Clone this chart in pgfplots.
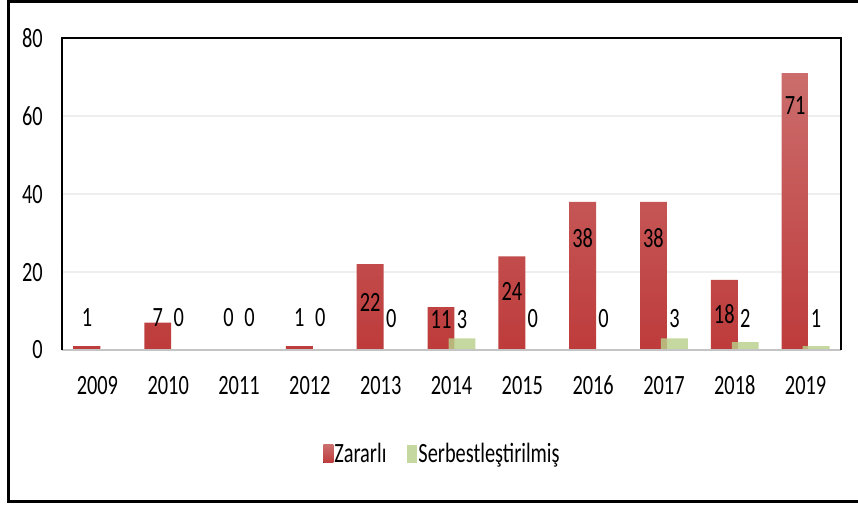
\documentclass[border=0pt]{standalone}
\usepackage{fontspec}
\setmainfont{Carlito}[FakeStretch=0.73]
\usepackage{pgfplots}
\pgfplotsset{compat=1.18}
\definecolor{redtop}{HTML}{CB6D6C}
\definecolor{redbot}{HTML}{BE3B3B}
\definecolor{greenbar}{HTML}{B8D08A}
\definecolor{gridc}{HTML}{EEEEEE}
\definecolor{baseline}{HTML}{C4C4C4}
\begin{document}
\begin{tikzpicture}[font=\fontsize{28}{32}\selectfont]
\useasboundingbox (0bp,0bp) rectangle (858bp,506bp);
\draw[line width=3bp] (860bp,504.5bp) -- (8bp,504.5bp) -- (8bp,4.5bp) -- (860bp,4.5bp);
\begin{axis}[
  at={(62bp,156bp)}, anchor=south west,
  scale only axis, width=779bp, height=312bp,
  xmin=-0.5, xmax=10.5, ymin=0, ymax=80,
  ytick={0,20,40,60,80},
  xtick={0,1,2,3,4,5,6,7,8,9,10},
  xticklabels={2009,2010,2011,2012,2013,2014,2015,2016,2017,2018,2019},
  major tick length=0pt,
  ymajorgrids,
  grid style={color=gridc, line width=2.5bp},
  axis line style={draw=none},
  clip=false,
  /pgf/number format/assume math mode=true,
  yticklabel style={inner sep=0pt, xshift=-19bp, text height=18bp, text depth=0pt},
  xticklabel style={inner sep=0pt, yshift=-26bp, text height=18bp, text depth=0pt},
  legend style={at={(0.4878,-0.3333)}, anchor=center, draw=none, fill=none,
    legend columns=2, /tikz/every even column/.append style={column sep=20bp},
    nodes={inner sep=1bp}},
  legend image code/.code={\fill[#1] (0bp,-9bp) rectangle (10bp,9bp);},
]
\addplot[ybar, bar width=0.38, bar shift=-0.148, draw=none, top color=redtop, bottom color=redbot]
  coordinates {(0,1) (1,7) (2,0) (3,1) (4,22) (5,11) (6,24) (7,38) (8,38) (9,18) (10,71)};
\addlegendentry{Zararlı}
\addplot[ybar, bar width=0.38, bar shift=0.148, draw=none, fill=greenbar, fill opacity=0.82]
  coordinates {(1,0) (2,0) (3,0) (4,0) (5,3) (6,0) (7,0) (8,3) (9,2) (10,1)};
\addlegendentry{Serbestleştirilmiş}
\addplot[forget plot, draw=none, mark=none, nodes near coords, point meta=explicit symbolic,
  nodes near coords align={center},
  every node near coord/.append style={anchor=center, inner sep=0pt, text=black, text height=18bp, text depth=0pt}]
  coordinates {(-0.148,8.3) [1] (0.852,8.3) [7] (1.852,8.3) [0] (2.852,8.3) [1]
    (3.852,12.3) [22] (4.852,7.9) [11] (5.852,15.1) [24] (6.852,28.7) [38]
    (7.852,28.7) [38] (8.852,9.2) [18] (9.852,62.6) [71]};
\addplot[forget plot, draw=none, mark=none, nodes near coords, point meta=explicit symbolic,
  nodes near coords align={center},
  every node near coord/.append style={anchor=center, inner sep=0pt, text=black, text height=18bp, text depth=0pt}]
  coordinates {(1.148,8.3) [0] (2.148,8.3) [0] (3.148,8.3) [0] (4.148,8.1) [0]
    (5.148,7.9) [3] (6.148,8.1) [0] (7.148,8.1) [0] (8.148,8.1) [3]
    (9.148,8.1) [2] (10.148,8.1) [1]};
\draw[line width=2.5bp, color=baseline] (rel axis cs:0,0) -- (rel axis cs:1,0);
\draw[line width=2.2bp] (rel axis cs:0,0) -- (rel axis cs:0,1) -- (rel axis cs:1,1) -- (rel axis cs:1,0);
\end{axis}
\end{tikzpicture}
\end{document}
